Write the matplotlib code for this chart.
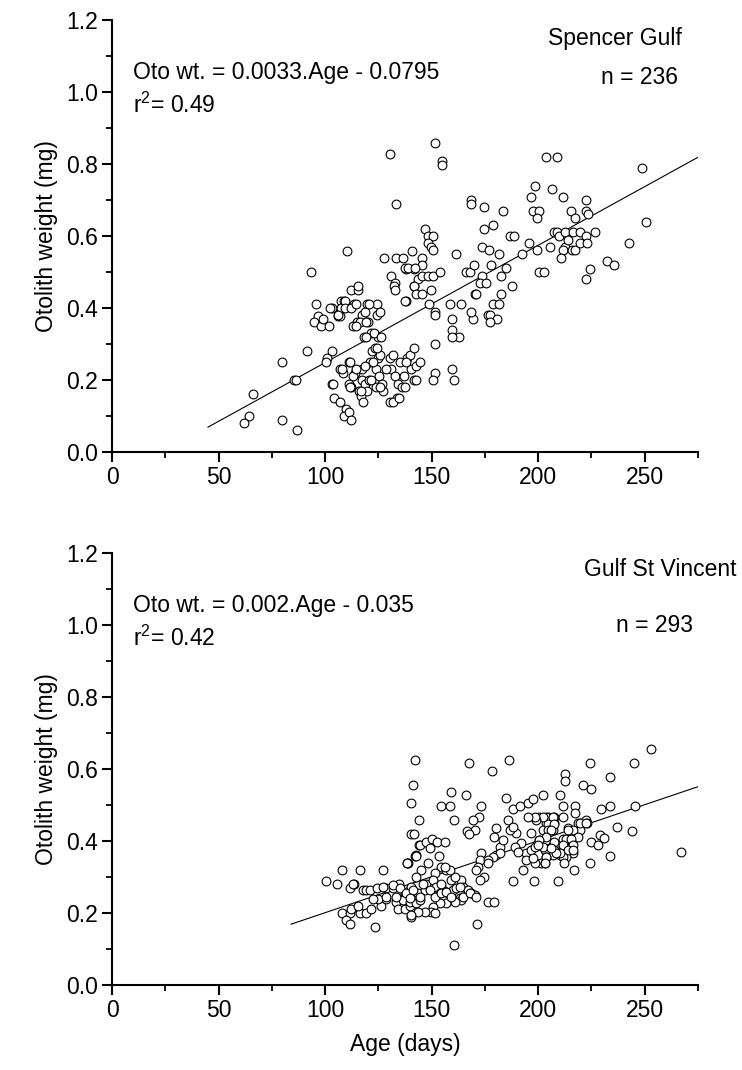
import matplotlib
matplotlib.use("Agg")
import matplotlib.pyplot as plt
import numpy as np

plt.rcParams['font.family'] = ['Liberation Sans', 'DejaVu Sans']
plt.rcParams['mathtext.fontset'] = 'custom'
plt.rcParams['mathtext.rm'] = 'Liberation Sans'

# Spencer Gulf: (age in days, otolith weight in mg)
sg_pts = [
    (130.6, 0.829), (133.4, 0.689), (110.5, 0.559), (93.4, 0.50), (127.7, 0.54), (133.4, 0.54),
    (136.5, 0.54), (140.6, 0.559), (137.8, 0.509), (141.8, 0.509), (130.8, 0.49), (133, 0.47),
    (132.5, 0.46), (133, 0.45), (141.7, 0.462), (137.8, 0.42),
    (95.8, 0.41), (96.6, 0.379), (95, 0.36), (98, 0.35), (99, 0.37), (101.9, 0.35), (103, 0.40),
    (106, 0.379), (107, 0.379), (107.5, 0.42), (109, 0.42), (107.6, 0.40), (112, 0.45),
    (115.5, 0.45), (115.5, 0.46), (113.4, 0.41), (117.3, 0.38), (119.5, 0.41), (124.4, 0.41),
    (124.4, 0.38), (115, 0.36), (113, 0.35), (120, 0.36), (121.5, 0.33), (118.3, 0.32), (124.9, 0.32),
    (91.6, 0.28), (103, 0.28), (101, 0.26), (79.9, 0.25), (85.6, 0.20), (86.3, 0.20), (66.1, 0.16),
    (64.3, 0.10), (62, 0.08), (79.9, 0.09), (86.8, 0.06), (103, 0.19), (104.2, 0.15), (107.2, 0.14),
    (110, 0.12), (109, 0.10), (111, 0.11), (112, 0.09),
    (107.2, 0.23), (108.5, 0.22), (111, 0.25), (114, 0.22), (113, 0.21), (111, 0.19), (112, 0.18),
    (115.9, 0.17), (117, 0.155), (117.3, 0.23), (117.3, 0.20), (118.5, 0.19), (119.5, 0.17),
    (120.4, 0.20), (121.2, 0.25), (122.1, 0.28), (123.4, 0.29), (124.9, 0.26), (124, 0.23),
    (125.5, 0.21), (124, 0.18), (127, 0.17), (126.6, 0.19), (130.5, 0.26), (131, 0.23), (130.5, 0.14),
    (133.8, 0.15), (133, 0.21), (134, 0.19), (136, 0.18), (137, 0.21), (138.5, 0.26), (140, 0.27),
    (141.7, 0.29), (140.3, 0.23), (141.8, 0.20), (142.7, 0.24),
    (111.6, 0.249), (114.7, 0.23), (118.6, 0.24), (122.5, 0.25), (125.6, 0.27), (128.8, 0.23),
    (131.9, 0.27), (135, 0.25), (138.1, 0.25), (144.7, 0.25), (142.7, 0.20), (137.3, 0.18),
    (131.9, 0.14), (134.7, 0.15), (125.6, 0.18), (121.7, 0.20), (117, 0.17), (117.8, 0.14),
    (111.6, 0.18), (103.8, 0.19), (107.8, 0.23), (151.4, 0.30), (151.4, 0.22), (150.6, 0.20),
    (159.7, 0.23), (160.5, 0.20),
    (109.2, 0.42), (109.2, 0.40), (112.3, 0.40), (114.7, 0.41), (118.6, 0.39), (120.6, 0.41),
    (125.6, 0.39), (116.2, 0.36), (119.4, 0.36), (114.7, 0.35), (122.8, 0.33), (119.4, 0.32),
    (126.4, 0.32), (124.5, 0.29),
    (148.7, 0.41), (151.4, 0.39), (158.8, 0.41), (163.6, 0.41), (159.6, 0.37), (169.4, 0.37),
    (168.6, 0.39), (159.6, 0.34), (162.7, 0.32), (170.3, 0.44), (137.6, 0.42), (100.6, 0.25),
    (102.5, 0.40), (106, 0.38),
    (151.7, 0.858), (154.7, 0.807), (154.7, 0.798), (203.6, 0.82), (208.6, 0.82), (248.8, 0.789),
    (250.5, 0.64), (198.6, 0.74), (196.7, 0.709), (206.6, 0.73), (211.5, 0.709), (197.5, 0.67),
    (200.5, 0.67), (199.3, 0.65), (222.5, 0.70), (215.5, 0.67), (217.5, 0.65), (222.5, 0.67),
    (223.6, 0.66), (168.6, 0.70), (168.6, 0.69), (174.7, 0.68), (183.6, 0.67), (174.7, 0.62),
    (178.7, 0.63), (186.6, 0.60), (188.6, 0.60), (173.4, 0.57), (176.7, 0.56), (181.5, 0.55),
    (161.6, 0.55), (192.5, 0.55), (195.6, 0.58), (199.5, 0.56), (205.6, 0.57), (207.5, 0.61),
    (208.6, 0.61), (209.7, 0.60), (212.7, 0.61), (216.2, 0.61), (219.7, 0.61), (222.5, 0.60),
    (226.6, 0.61), (212.7, 0.57), (211.7, 0.56), (210.5, 0.54), (216, 0.56), (217.5, 0.56),
    (219.7, 0.58), (222.9, 0.58), (214, 0.59), (224.2, 0.509), (222.6, 0.48), (232.3, 0.53),
    (235.8, 0.52), (242.5, 0.58), (200.3, 0.50), (202.5, 0.50), (166.3, 0.50), (167.8, 0.50),
    (169.7, 0.52), (173.6, 0.49), (172.5, 0.47), (175.6, 0.47), (170.6, 0.44), (177.7, 0.52),
    (182.6, 0.49), (184.7, 0.51), (187.8, 0.46), (182.6, 0.44), (159.6, 0.32), (176.4, 0.38),
    (177.5, 0.38), (178.7, 0.41), (181.5, 0.41), (180.6, 0.37), (177.5, 0.36), (151.7, 0.38),
    (146.7, 0.62), (148.3, 0.60), (150.6, 0.60), (148.3, 0.58), (149.8, 0.57), (150.6, 0.56),
    (145.6, 0.54), (145.6, 0.52), (137.3, 0.51), (138.9, 0.51), (142, 0.51), (143.6, 0.48),
    (145.6, 0.49), (148.3, 0.49), (150.6, 0.49), (153.8, 0.50), (141.6, 0.46), (142.8, 0.44),
    (145.6, 0.44), (149.5, 0.45),
]

# Gulf St Vincent: (age in days, otolith weight in mg)
gsv_pts = [
    (142.3, 0.626), (141.2, 0.557), (140.3, 0.507), (144, 0.458), (140.3, 0.419), (141.6, 0.419),
    (144, 0.388), (142.3, 0.358), (138.9, 0.339), (107.7, 0.32), (116.6, 0.32), (127.3, 0.32),
    (100.6, 0.289), (105.6, 0.28), (111.6, 0.27), (113.4, 0.28), (117.8, 0.263), (119.4, 0.263),
    (121, 0.263), (124.5, 0.27), (128.8, 0.27), (131.9, 0.27), (134.5, 0.28), (107.7, 0.20),
    (111.6, 0.20), (116.2, 0.20), (119.4, 0.20), (109.7, 0.18), (111.6, 0.17), (112.3, 0.21),
    (115.4, 0.22), (123.4, 0.16), (121.7, 0.21), (126.4, 0.22), (128.8, 0.24), (124.8, 0.24),
    (122.5, 0.24), (133.4, 0.23), (134.2, 0.21), (137.3, 0.21), (137.3, 0.25), (140.4, 0.27),
    (140.4, 0.19), (142, 0.227), (139.7, 0.22), (113.1, 0.28), (138.4, 0.34), (142.5, 0.36),
    (252.8, 0.656), (266.9, 0.369), (244.8, 0.617), (233.9, 0.578), (224.1, 0.617), (220.9, 0.557),
    (224.8, 0.546), (212.8, 0.587), (212.8, 0.567), (167.3, 0.617), (186.2, 0.626), (178.4, 0.596),
    (159.2, 0.537), (166.3, 0.528), (154.5, 0.497), (158.4, 0.497), (160.3, 0.458), (173.3, 0.497),
    (172.2, 0.468), (169.4, 0.458), (170.2, 0.43), (166.6, 0.429), (167.5, 0.419), (185, 0.519),
    (188.1, 0.488), (191.3, 0.497), (195.2, 0.507), (197.5, 0.516), (202.2, 0.528), (210, 0.528),
    (211.7, 0.497), (217.2, 0.497), (217.2, 0.477), (229.7, 0.488), (233.9, 0.497), (245.2, 0.497),
    (236.9, 0.438), (244.1, 0.429), (228.8, 0.418), (231.1, 0.408), (224.8, 0.398), (228, 0.388),
    (233.9, 0.358), (224.1, 0.339), (218.6, 0.45), (220.2, 0.45), (222.5, 0.458), (223, 0.45),
    (219.4, 0.43), (209.2, 0.289), (198, 0.289), (188.1, 0.289), (193.1, 0.32), (176.4, 0.23),
    (179.2, 0.23), (171.2, 0.17), (160.3, 0.11), (180.3, 0.435), (179.4, 0.41),
    (138.4, 0.338), (142.5, 0.358), (144.4, 0.388), (147.5, 0.398), (150.3, 0.407), (152.5, 0.398),
    (149.4, 0.380), (153.4, 0.358), (156.1, 0.398), (154.5, 0.329), (156.9, 0.319), (151.4, 0.310),
    (148.3, 0.338), (145.2, 0.319), (142.5, 0.301), (140.5, 0.273), (137.3, 0.255), (136.6, 0.236),
    (139.7, 0.232), (142.8, 0.227), (143.6, 0.255), (146.7, 0.264), (147.5, 0.282), (150.6, 0.292),
    (152.2, 0.273), (153.8, 0.255), (155.3, 0.264), (156.9, 0.259), (157.7, 0.255), (158.4, 0.259),
    (160, 0.264), (161.6, 0.269), (163.9, 0.292), (164.7, 0.273), (167, 0.264), (168.6, 0.255),
    (170.2, 0.250), (163.1, 0.241), (163.9, 0.236), (160.8, 0.232), (156.9, 0.227), (153.8, 0.227),
    (150.6, 0.218), (149.8, 0.204), (151.4, 0.199), (146.7, 0.204), (143.6, 0.204), (140.5, 0.195),
    (144.4, 0.236), (154.5, 0.282), (159.2, 0.292), (160.8, 0.301), (158.4, 0.319), (156.1, 0.329),
    (200.6, 0.468), (204.5, 0.468), (207.6, 0.468), (203.7, 0.449), (207.6, 0.449), (202.2, 0.431),
    (206.9, 0.431), (211.5, 0.468), (213.9, 0.435), (216.2, 0.431), (219.4, 0.449), (222.5, 0.449),
    (200.6, 0.403), (203.7, 0.403), (207.6, 0.398), (211.5, 0.407), (214.7, 0.407), (218.6, 0.412),
    (203, 0.375), (207.6, 0.375), (211.5, 0.384), (215.4, 0.384), (216.2, 0.366), (210, 0.361),
    (206.9, 0.361), (203.7, 0.357), (213.1, 0.357), (201.4, 0.338), (203, 0.338),
    (213.9, 0.431), (213.1, 0.407), (215.5, 0.407), (211.6, 0.389), (216.3, 0.389), (213.9, 0.375),
    (211.6, 0.356), (210, 0.366), (212.3, 0.338), (216.3, 0.375), (217, 0.319), (208.4, 0.366),
    (203.8, 0.468), (206.9, 0.468), (204.5, 0.447), (207.2, 0.447), (202.2, 0.468), (204.5, 0.431),
    (206.1, 0.431), (203.8, 0.412), (200.6, 0.403), (202.2, 0.384), (206.1, 0.380), (203.8, 0.356),
    (203, 0.338), (198.3, 0.338), (194.4, 0.366), (196.7, 0.375), (198.3, 0.384), (194.4, 0.347),
    (196.7, 0.421), (199.1, 0.458), (198.3, 0.468), (195.2, 0.468), (199.8, 0.389), (192, 0.394),
    (188.9, 0.384), (189.7, 0.421), (186.6, 0.431), (185.8, 0.458), (188.1, 0.440), (190.5, 0.370),
    (197.5, 0.352), (181.9, 0.384), (183.4, 0.403), (180, 0.361), (181.9, 0.366), (178.8, 0.356),
    (173.3, 0.368), (172.5, 0.347), (171.7, 0.329), (174.8, 0.299), (172.5, 0.292), (176.4, 0.347),
    (176.4, 0.338), (170.9, 0.319),
    (127.2, 0.273), (131.9, 0.278), (135, 0.269), (138.1, 0.255), (141.2, 0.264), (128.7, 0.245),
    (133.4, 0.245), (139.7, 0.241), (144.4, 0.245), (145.9, 0.282), (149, 0.264), (151.4, 0.245),
    (154.5, 0.255), (156.9, 0.259), (159.2, 0.245), (163.1, 0.273), (164.7, 0.245), (167.8, 0.255),
    (170.9, 0.245),
]

# regression lines as drawn: slope, intercept, x range
sg_fit = (0.00326, -0.0778, 45, 275)
gsv_fit = (0.00200, 0.0010, 84, 275)

FS = 16.5

fig = plt.figure(figsize=(7.42, 10.70), dpi=100)
ax1 = fig.add_axes([0.151, 0.5776, 0.7897, 0.4037])
ax2 = fig.add_axes([0.151, 0.0794, 0.7897, 0.4037])


def draw_panel(ax, pts, fit, eq, r2, site, n):
    x = [p[0] for p in pts]
    y = [p[1] for p in pts]
    ax.scatter(x, y, s=40, facecolors='white', edgecolors='black', linewidths=0.8, zorder=3)
    xs = np.array([fit[2], fit[3]])
    ax.plot(xs, fit[0] * xs + fit[1], color='black', lw=0.8, zorder=2)
    ax.set_xlim(0, 275)
    ax.set_ylim(0, 1.2)
    ax.set_xticks([0, 50, 100, 150, 200, 250])
    ax.set_xticks([25, 75, 125, 175, 225, 275], minor=True)
    ax.set_yticks([0.0, 0.2, 0.4, 0.6, 0.8, 1.0, 1.2])
    ax.set_yticks([0.1, 0.3, 0.5, 0.7, 0.9, 1.1], minor=True)
    ax.set_yticklabels(['0.0', '0.2', '0.4', '0.6', '0.8', '1.0', '1.2'])
    for s in ['top', 'right']:
        ax.spines[s].set_visible(False)
    for s in ['left', 'bottom']:
        ax.spines[s].set_linewidth(1.5)
    ax.tick_params(which='major', direction='out', length=7, width=1.5, labelsize=FS, pad=3)
    ax.tick_params(which='minor', direction='out', length=4, width=1.3)
    ax.set_ylabel('Otolith weight (mg)', fontsize=FS, labelpad=6)
    ax.text(10, 1.055, eq, fontsize=FS, va='center', ha='left')
    ax.text(10, 0.962, r2, fontsize=FS, va='center', ha='left')
    ax.text(site[1], site[2], site[0], fontsize=FS, va='center', ha='center', clip_on=False)
    ax.text(n[1], n[2], n[0], fontsize=FS, va='center', ha='center')


draw_panel(ax1, sg_pts, sg_fit, 'Oto wt. = 0.0033.Age - 0.0795', 'r$^2$= 0.49',
           ('Spencer Gulf', 236, 1.15), ('n = 236', 247.5, 1.04))
draw_panel(ax2, gsv_pts, gsv_fit, 'Oto wt. = 0.002.Age - 0.035', 'r$^2$= 0.42',
           ('Gulf St Vincent', 257.5, 1.155), ('n = 293', 254.5, 1.0))
ax2.set_xlabel('Age (days)', fontsize=FS, labelpad=8)

fig.savefig('out.png', dpi=100)
